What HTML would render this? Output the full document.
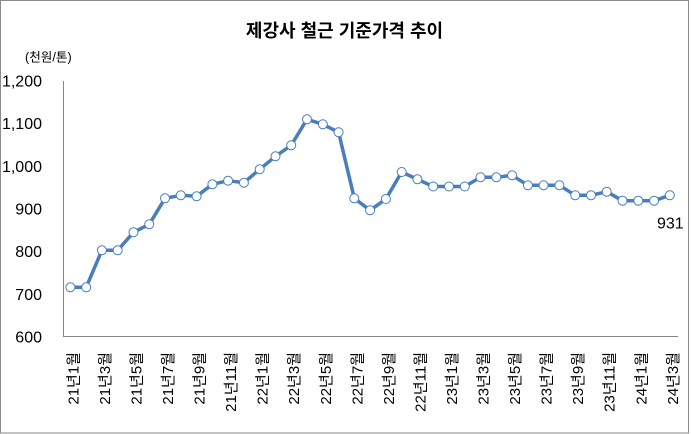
<!DOCTYPE html>
<html><head><meta charset="utf-8"><style>
html,body{margin:0;padding:0;background:#fff;}
svg{display:block;}
text{font-family:"Liberation Sans","Noto Sans CJK KR",sans-serif;fill:#000;}
</style></head><body>
<svg width="691" height="434" viewBox="0 0 691 434" xmlns="http://www.w3.org/2000/svg">
<rect x="0" y="0" width="691" height="434" fill="#fff"/>
<rect x="0.5" y="0.5" width="688" height="432.5" fill="none" stroke="#8a8a8a" stroke-width="1"/>
<text x="344.5" y="37" text-anchor="middle" font-size="18" font-weight="bold">제강사 철근 기준가격 추이</text>
<text x="25" y="61.5" font-size="12.6">(천원/톤)</text>
<g font-size="16" text-anchor="end">
<text x="42" y="86.5">1,200</text>
<text x="42" y="129.2">1,100</text>
<text x="42" y="171.8">1,000</text>
<text x="42" y="214.5">900</text>
<text x="42" y="257.2">800</text>
<text x="42" y="299.8">700</text>
<text x="42" y="342.5">600</text>
</g>
<line x1="63.5" y1="81" x2="63.5" y2="337" stroke="#868686" stroke-width="1"/>
<line x1="63" y1="336.5" x2="678" y2="336.5" stroke="#868686" stroke-width="1"/>
<polyline fill="none" stroke="#4a7ebb" stroke-width="3.5" stroke-linejoin="round" points="70.4,287.3 86.2,287.3 101.9,250.3 117.7,250.3 133.5,232.3 149.3,224.3 165.0,198.3 180.8,195.3 196.6,196.3 212.4,184.3 228.1,180.7 243.9,182.7 259.7,169.3 275.5,156.3 291.2,145.3 307.0,119.3 322.8,124.3 338.6,132.3 354.3,198.3 370.1,210.3 385.9,199.0 401.7,172.0 417.4,179.3 433.2,186.5 449.0,186.5 464.8,186.5 480.5,177.3 496.3,177.3 512.1,175.3 527.9,185.3 543.6,185.3 559.4,185.3 575.2,195.3 591.0,195.3 606.7,191.7 622.5,200.7 638.3,200.7 654.1,200.7 669.8,195.3"/>
<g fill="#fff" stroke="#4a7ebb" stroke-width="1">
<circle cx="70.4" cy="287.3" r="4.5"/><circle cx="86.2" cy="287.3" r="4.5"/><circle cx="101.9" cy="250.3" r="4.5"/><circle cx="117.7" cy="250.3" r="4.5"/><circle cx="133.5" cy="232.3" r="4.5"/><circle cx="149.3" cy="224.3" r="4.5"/><circle cx="165.0" cy="198.3" r="4.5"/><circle cx="180.8" cy="195.3" r="4.5"/><circle cx="196.6" cy="196.3" r="4.5"/><circle cx="212.4" cy="184.3" r="4.5"/><circle cx="228.1" cy="180.7" r="4.5"/><circle cx="243.9" cy="182.7" r="4.5"/><circle cx="259.7" cy="169.3" r="4.5"/><circle cx="275.5" cy="156.3" r="4.5"/><circle cx="291.2" cy="145.3" r="4.5"/><circle cx="307.0" cy="119.3" r="4.5"/><circle cx="322.8" cy="124.3" r="4.5"/><circle cx="338.6" cy="132.3" r="4.5"/><circle cx="354.3" cy="198.3" r="4.5"/><circle cx="370.1" cy="210.3" r="4.5"/><circle cx="385.9" cy="199.0" r="4.5"/><circle cx="401.7" cy="172.0" r="4.5"/><circle cx="417.4" cy="179.3" r="4.5"/><circle cx="433.2" cy="186.5" r="4.5"/><circle cx="449.0" cy="186.5" r="4.5"/><circle cx="464.8" cy="186.5" r="4.5"/><circle cx="480.5" cy="177.3" r="4.5"/><circle cx="496.3" cy="177.3" r="4.5"/><circle cx="512.1" cy="175.3" r="4.5"/><circle cx="527.9" cy="185.3" r="4.5"/><circle cx="543.6" cy="185.3" r="4.5"/><circle cx="559.4" cy="185.3" r="4.5"/><circle cx="575.2" cy="195.3" r="4.5"/><circle cx="591.0" cy="195.3" r="4.5"/><circle cx="606.7" cy="191.7" r="4.5"/><circle cx="622.5" cy="200.7" r="4.5"/><circle cx="638.3" cy="200.7" r="4.5"/><circle cx="654.1" cy="200.7" r="4.5"/><circle cx="669.8" cy="195.3" r="4.5"/>
</g>
<text x="657" y="228.4" font-size="16">931</text>
<g font-size="15" text-anchor="end">
<text transform="translate(78.4,352) rotate(-90)">21년1월</text>
<text transform="translate(109.9,352) rotate(-90)">21년3월</text>
<text transform="translate(141.5,352) rotate(-90)">21년5월</text>
<text transform="translate(173.0,352) rotate(-90)">21년7월</text>
<text transform="translate(204.6,352) rotate(-90)">21년9월</text>
<text transform="translate(236.1,352) rotate(-90)">21년11월</text>
<text transform="translate(267.7,352) rotate(-90)">22년1월</text>
<text transform="translate(299.2,352) rotate(-90)">22년3월</text>
<text transform="translate(330.8,352) rotate(-90)">22년5월</text>
<text transform="translate(362.3,352) rotate(-90)">22년7월</text>
<text transform="translate(393.9,352) rotate(-90)">22년9월</text>
<text transform="translate(425.4,352) rotate(-90)">22년11월</text>
<text transform="translate(457.0,352) rotate(-90)">23년1월</text>
<text transform="translate(488.5,352) rotate(-90)">23년3월</text>
<text transform="translate(520.1,352) rotate(-90)">23년5월</text>
<text transform="translate(551.6,352) rotate(-90)">23년7월</text>
<text transform="translate(583.2,352) rotate(-90)">23년9월</text>
<text transform="translate(614.7,352) rotate(-90)">23년11월</text>
<text transform="translate(646.3,352) rotate(-90)">24년1월</text>
<text transform="translate(677.8,352) rotate(-90)">24년3월</text>
</g>
</svg>
</body></html>
